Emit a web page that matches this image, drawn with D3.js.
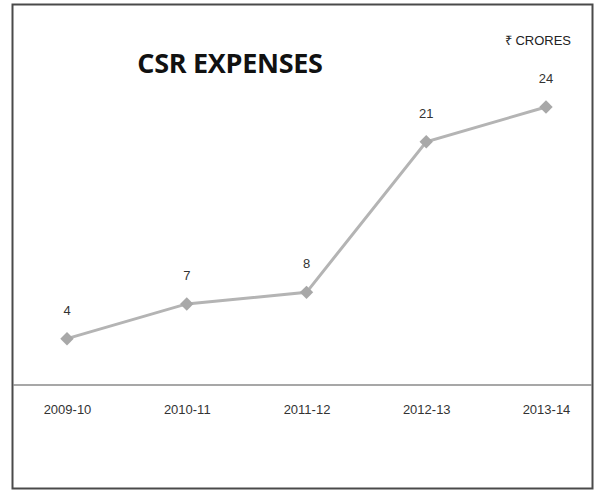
<!DOCTYPE html>
<html>
<head>
<meta charset="utf-8">
<script src="https://cdn.jsdelivr.net/npm/d3@7/dist/d3.min.js"></script>
<style>
  html, body { margin: 0; padding: 0; background: #fff; }
  svg { display: block; }
</style>
</head>
<body>
<svg id="chart" width="595" height="491"></svg>
<script>
// CSR spend per financial year, in ₹ crores
const years = ["2009-10", "2010-11", "2011-12", "2012-13", "2013-14"];
const expenses = [4, 7, 8, 21, 24];
const chartTitle = "CSR EXPENSES";
const unitLabel = "₹ CRORES";

const svg = d3.select("#chart");

// outer frame
svg.append("rect")
  .attr("x", 12.5).attr("y", 4.5)
  .attr("width", 580).attr("height", 484)
  .attr("fill", "#fff")
  .attr("stroke", "#4a4a4a")
  .attr("stroke-width", 2);

const x = d3.scalePoint()
  .domain(years)
  .range([67, 546]);

const y = d3.scaleLinear()
  .domain([0, 24])
  .range([385, 107]);

// category axis along the zero line
const xAxis = svg.append("g")
  .attr("transform", `translate(0,${y(0)})`)
  .call(d3.axisBottom(x).tickSize(0).tickPadding(20));
xAxis.select(".domain").remove();
xAxis.selectAll("text")
  .attr("font-family", "'Liberation Sans', Arial, sans-serif")
  .attr("font-size", 13)
  .attr("fill", "#333");

svg.append("line")
  .attr("x1", 13).attr("x2", 592)
  .attr("y1", y(0)).attr("y2", y(0))
  .attr("stroke", "#8a8a8a")
  .attr("stroke-width", 1.5);

// series line
const line = d3.line()
  .x((d, i) => x(years[i]))
  .y(d => y(d));

svg.append("path")
  .datum(expenses)
  .attr("d", line)
  .attr("fill", "none")
  .attr("stroke", "#b4b4b4")
  .attr("stroke-width", 3);

// diamond markers (square turned 45°)
svg.selectAll(".marker")
  .data(expenses)
  .join("path")
  .attr("class", "marker")
  .attr("d", d3.symbol(d3.symbolSquare, 90))
  .attr("transform", (d, i) => `translate(${x(years[i])},${y(d)}) rotate(45)`)
  .attr("fill", "#a8a8a8");

// value labels
svg.selectAll(".val")
  .data(expenses)
  .join("text")
  .attr("class", "val")
  .attr("x", (d, i) => x(years[i]))
  .attr("y", d => y(d) - 24)
  .attr("text-anchor", "middle")
  .attr("font-family", "'Liberation Sans', Arial, sans-serif")
  .attr("font-size", 13)
  .attr("fill", "#333")
  .text(d => d);

// title and unit
svg.append("text")
  .attr("x", 230).attr("y", 73)
  .attr("text-anchor", "middle")
  .attr("font-family", "'Open Sans', 'Liberation Sans', sans-serif")
  .attr("font-weight", "bold")
  .attr("font-size", 27)
  .attr("letter-spacing", -0.3)
  .attr("fill", "#111")
  .text(chartTitle);

svg.append("text")
  .attr("x", 571).attr("y", 45)
  .attr("text-anchor", "end")
  .attr("font-family", "'Liberation Sans', Arial, sans-serif")
  .attr("font-size", 13)
  .attr("fill", "#222")
  .text(unitLabel);
</script>
</body>
</html>
